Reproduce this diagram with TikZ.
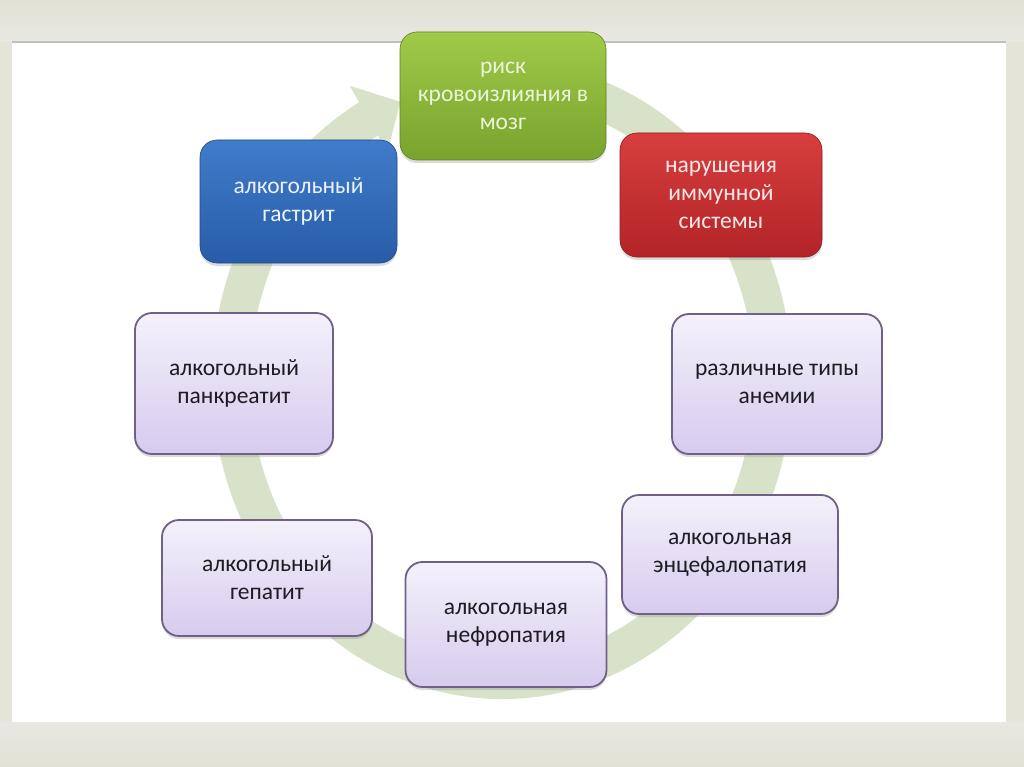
\documentclass[tikz,border=0pt]{standalone}
\usepackage{fontspec}
\setmainfont{Carlito}
\usetikzlibrary{shadows,calc}
\definecolor{framec}{RGB}{229,228,217}
\definecolor{frametop}{RGB}{226,225,214}
\definecolor{framelow}{RGB}{232,232,226}
\definecolor{ringc}{RGB}{216,226,200}
\definecolor{greentop}{RGB}{160,202,72}
\definecolor{greenbot}{RGB}{120,163,46}
\definecolor{greentext}{RGB}{236,245,218}
\definecolor{bluetop}{RGB}{64,124,202}
\definecolor{bluebot}{RGB}{40,92,168}
\definecolor{bluetext}{RGB}{236,241,250}
\definecolor{redtop}{RGB}{216,62,62}
\definecolor{redbot}{RGB}{178,36,40}
\definecolor{redtext}{RGB}{250,232,232}
\definecolor{lavtop}{RGB}{244,241,251}
\definecolor{lavbot}{RGB}{214,203,238}
\definecolor{lavborder}{RGB}{112,96,136}
\definecolor{textdark}{RGB}{30,28,34}
\tikzset{
  base/.style={rounded corners=17pt, align=center, inner sep=0pt,
    font=\fontsize{23.5}{28}\selectfont,
    drop shadow={opacity=0.28, shadow xshift=0pt, shadow yshift=-3pt}},
  lavbox/.style={base, draw=lavborder, line width=1.8pt,
    top color=lavtop, bottom color=lavbot, text=textdark},
  greenbox/.style={base, draw=greenbot!80!black, line width=0.6pt,
    top color=greentop, bottom color=greenbot, text=greentext},
  bluebox/.style={base, draw=bluebot!80!black, line width=0.6pt,
    top color=bluetop, bottom color=bluebot, text=bluetext},
  redbox/.style={base, draw=redbot!80!black, line width=0.6pt,
    top color=redtop, bottom color=redbot, text=redtext},
  ring/.style={draw=ringc, line width=38pt},
}
\begin{document}
\begin{tikzpicture}[x=1pt,y=1pt]
\useasboundingbox (0,0) rectangle (1024,-767);
% frame
\fill[framec] (0,0) rectangle (1024,-767);
\shade[top color=frametop, bottom color=framelow] (0,0) rectangle (1024,-42);
\shade[top color=framelow, bottom color=frametop] (0,-722) rectangle (1024,-767);
\fill[white] (12,-42) rectangle (1006,-722);
\draw[black!25, line width=1.5pt] (12,-42) -- (1006,-42);
% ring arrow
\coordinate (c) at (502,-380);
\draw[ring] ($(c)+(75:271 and 300)$) arc[start angle=75, end angle=-242, x radius=271, y radius=300];
\fill[ringc] ($(c)+(119.5:233 and 262)$) -- ($(c)+(119.5:309 and 338)$) -- ($(c)+(112:271 and 300)$) -- cycle;
% boxes
\node[greenbox, minimum width=206pt, minimum height=128pt] (risk) at (503,-96)
  {риск\\кровоизлияния в\\мозг};
\node[bluebox, minimum width=197pt, minimum height=123pt] (gastr) at (298.5,-201.5)
  {алкогольный\\гастрит};
\node[redbox, minimum width=202pt, minimum height=124pt] (immun) at (721,-195)
  {нарушения\\иммунной\\системы};
\node[lavbox, minimum width=198pt, minimum height=141pt] (pankr) at (234,-383.5)
  {алкогольный\\панкреатит};
\node[lavbox, minimum width=210pt, minimum height=140pt] (anem) at (777,-384)
  {различные типы\\анемии};
\node[lavbox, minimum width=210pt, minimum height=116pt] (gepat) at (267,-578)
  {алкогольный\\гепатит};
\node[lavbox, minimum width=216pt, minimum height=119pt] (encef) at (730,-554.5)
  {алкогольная\\энцефалопатия};
\node[lavbox, minimum width=201pt, minimum height=125pt] (nefro) at (506,-624.5)
  {алкогольная\\нефропатия};
\end{tikzpicture}
\end{document}
